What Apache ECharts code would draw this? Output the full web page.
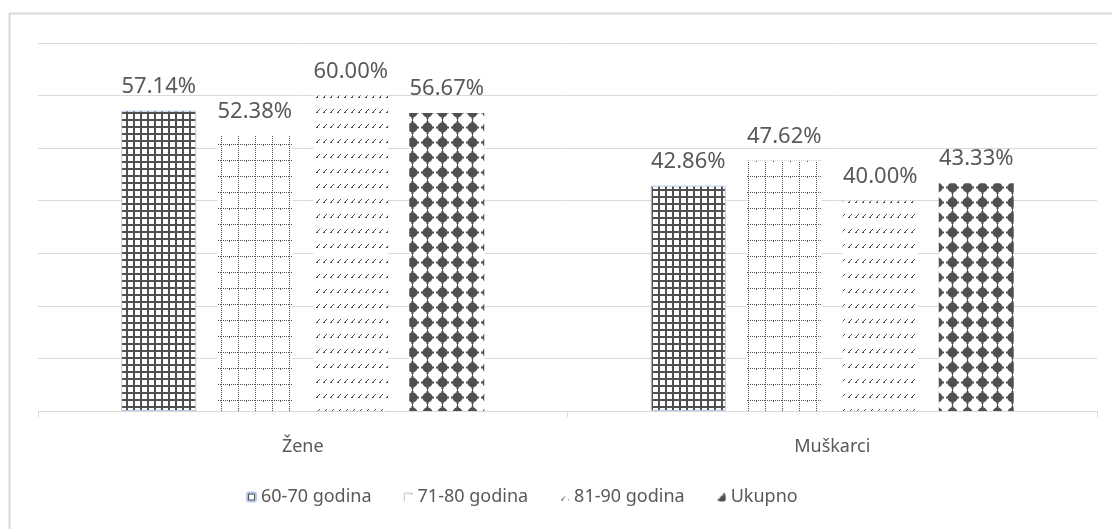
<!DOCTYPE html>
<html>
<head>
<meta charset="utf-8">
<script src="https://cdn.jsdelivr.net/npm/echarts@6/dist/echarts.min.js"></script>
<style>
  html, body { margin: 0; padding: 0; background: #fff; }
  #chart { width: 1112px; height: 529px; }
</style>
</head>
<body>
<div id="chart"></div>
<script>
var categories = ['Žene', 'Muškarci'];
var seriesNames = ['60-70 godina', '71-80 godina', '81-90 godina', 'Ukupno'];
var godina6070 = [57.14, 42.86];
var godina7180 = [52.38, 47.62];
var godina8190 = [60.00, 40.00];
var ukupno = [56.67, 43.33];

// pattern tiles, dark grey on white like the excel fills
function tile(w, h, draw) {
    var c = document.createElement('canvas');
    c.width = w; c.height = h;
    var ctx = c.getContext('2d');
    ctx.fillStyle = '#fff';
    ctx.fillRect(0, 0, w, h);
    ctx.fillStyle = '#505050';
    draw(ctx, w, h);
    return { image: c, repeat: 'repeat' };
}
var plaid = tile(7, 7, function (ctx) {
    ctx.fillRect(0, 0, 7, 2);
    ctx.fillRect(0, 0, 2, 7);
});
var dottedGrid = tile(17, 16, function (ctx) {
    for (var x = 0; x < 17; x += 2) ctx.fillRect(x, 0, 1, 1);
    for (var y = 0; y < 16; y += 2) ctx.fillRect(0, y, 1, 1);
    ctx.fillRect(8, 0, 1, 2);
});
var dashes = tile(7, 15, function (ctx) {
    ctx.fillRect(1, 7, 1, 1);
    ctx.fillRect(2, 6, 1, 1);
    ctx.fillRect(3, 5, 1, 1);
    ctx.fillRect(4, 4, 1, 1);
    ctx.fillRect(2, 7, 1, 1);
});
var dots = tile(15, 15, function (ctx) {
    ctx.beginPath();
    ctx.arc(7.5, 7.5, 5, 0, Math.PI * 2);
    ctx.fill();
    ctx.fillRect(6.5, 1, 2, 13);
    ctx.fillRect(1, 6.5, 13, 2);
    ctx.fillRect(7, 0, 1, 15);
});

var chart = echarts.init(document.getElementById('chart'));

function barSeries(name, data, fill, border) {
    return {
        name: name,
        type: 'bar',
        data: data,
        barWidth: 75,
        barGap: '28%',
        itemStyle: {
            color: fill,
            borderColor: border || 'transparent',
            borderWidth: border ? 1 : 0
        },
        label: {
            show: true,
            position: 'top',
            distance: 13,
            color: '#595959',
            fontSize: 22,
            fontFamily: 'Noto Sans',
            formatter: function (p) { return p.value.toFixed(2) + '%'; }
        }
    };
}

var option = {
    backgroundColor: '#fff',
    animation: false,
    graphic: [{
        type: 'rect',
        shape: { x: 9.5, y: 13.5, width: 1200, height: 600 },
        style: { fill: 'none', stroke: '#d9d9d9', lineWidth: 2 },
        silent: true
    }],
    grid: { left: 38, right: 15, top: 43, bottom: 118 },
    legend: {
        left: 241,
        top: 483,
        itemWidth: 9,
        itemHeight: 9,
        itemGap: 32,
        textStyle: { color: '#595959', fontSize: 18, fontFamily: 'Noto Sans' },
        data: seriesNames
    },
    xAxis: {
        type: 'category',
        data: categories,
        axisLine: { lineStyle: { color: '#d9d9d9', width: 1 } },
        axisTick: { show: true, length: 6, lineStyle: { color: '#d9d9d9' } },
        axisLabel: { color: '#595959', fontSize: 18, fontFamily: 'Noto Sans', margin: 27 }
    },
    yAxis: {
        type: 'value',
        min: 0,
        max: 70,
        interval: 10,
        axisLabel: { show: false },
        axisLine: { show: false },
        axisTick: { show: false },
        splitLine: { lineStyle: { color: '#d9d9d9', width: 1 } }
    },
    series: [
        barSeries(seriesNames[0], godina6070, plaid, '#b4c7e7'),
        barSeries(seriesNames[1], godina7180, dottedGrid),
        barSeries(seriesNames[2], godina8190, dashes),
        barSeries(seriesNames[3], ukupno, dots)
    ]
};
chart.setOption(option);
window.addEventListener('resize', function () {
    chart.resize();
});
</script>
</body>
</html>
